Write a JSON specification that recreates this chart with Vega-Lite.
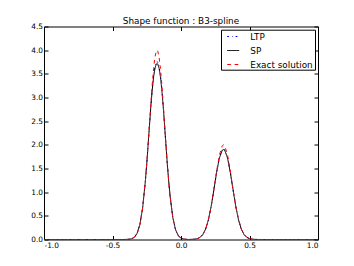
{
  "$schema": "https://vega.github.io/schema/vega-lite/v6.json",
  "width": 274,
  "height": 213,
  "autosize": {"type": "none"},
  "padding": {"left": 44, "top": 26.5, "right": 36, "bottom": 26.5},
  "background": "white",
  "config": {
    "font": "DejaVu Sans",
    "view": {"stroke": "black", "strokeWidth": 1},
    "axis": {"grid": false, "domain": false, "tickColor": "black", "labelColor": "black", "labelFont": "DejaVu Sans", "labelFontSize": 7.4, "title": null}
  },
  "title": {"text": "Shape function : B3-spline", "font": "DejaVu Sans", "fontSize": 8.85, "fontWeight": "normal", "color": "black", "offset": -3},
  "data": {"values": [
    {"s":"LTP","x":-1.0,"y":0},{"s":"LTP","x":-0.46,"y":0},{"s":"LTP","x":-0.44,"y":0.00004},{"s":"LTP","x":-0.42,"y":0.0002},{"s":"LTP","x":-0.40,"y":0.0011},{"s":"LTP","x":-0.38,"y":0.0044},{"s":"LTP","x":-0.36,"y":0.0154},{"s":"LTP","x":-0.34,"y":0.0482},{"s":"LTP","x":-0.32,"y":0.1318},{"s":"LTP","x":-0.30,"y":0.3168},{"s":"LTP","x":-0.28,"y":0.668},{"s":"LTP","x":-0.26,"y":1.237},{"s":"LTP","x":-0.25,"y":1.601},{"s":"LTP","x":-0.24,"y":2.003},{"s":"LTP","x":-0.23,"y":2.421},{"s":"LTP","x":-0.22,"y":2.824},{"s":"LTP","x":-0.21,"y":3.179},{"s":"LTP","x":-0.20,"y":3.461},{"s":"LTP","x":-0.19,"y":3.653},{"s":"LTP","x":-0.18,"y":3.748},{"s":"LTP","x":-0.175,"y":3.76},{"s":"LTP","x":-0.17,"y":3.748},{"s":"LTP","x":-0.16,"y":3.653},{"s":"LTP","x":-0.15,"y":3.461},{"s":"LTP","x":-0.14,"y":3.179},{"s":"LTP","x":-0.13,"y":2.824},{"s":"LTP","x":-0.12,"y":2.421},{"s":"LTP","x":-0.11,"y":2.003},{"s":"LTP","x":-0.10,"y":1.601},{"s":"LTP","x":-0.09,"y":1.237},{"s":"LTP","x":-0.08,"y":0.924},{"s":"LTP","x":-0.06,"y":0.468},{"s":"LTP","x":-0.04,"y":0.208},{"s":"LTP","x":-0.02,"y":0.081},{"s":"LTP","x":0.0,"y":0.028},{"s":"LTP","x":0.02,"y":0.0083},{"s":"LTP","x":0.04,"y":0.0024},{"s":"LTP","x":0.06,"y":0.0011},{"s":"LTP","x":0.08,"y":0.0022},{"s":"LTP","x":0.10,"y":0.0065},{"s":"LTP","x":0.12,"y":0.0183},{"s":"LTP","x":0.14,"y":0.0466},{"s":"LTP","x":0.16,"y":0.1072},{"s":"LTP","x":0.18,"y":0.222},{"s":"LTP","x":0.20,"y":0.414},{"s":"LTP","x":0.22,"y":0.697},{"s":"LTP","x":0.24,"y":1.051},{"s":"LTP","x":0.26,"y":1.424},{"s":"LTP","x":0.28,"y":1.730},{"s":"LTP","x":0.30,"y":1.898},{"s":"LTP","x":0.31,"y":1.92},{"s":"LTP","x":0.32,"y":1.898},{"s":"LTP","x":0.34,"y":1.730},{"s":"LTP","x":0.36,"y":1.424},{"s":"LTP","x":0.38,"y":1.051},{"s":"LTP","x":0.40,"y":0.697},{"s":"LTP","x":0.42,"y":0.414},{"s":"LTP","x":0.44,"y":0.222},{"s":"LTP","x":0.46,"y":0.107},{"s":"LTP","x":0.48,"y":0.047},{"s":"LTP","x":0.50,"y":0.018},{"s":"LTP","x":0.52,"y":0.0065},{"s":"LTP","x":0.54,"y":0.0021},{"s":"LTP","x":0.56,"y":0.0006},{"s":"LTP","x":0.58,"y":0.0002},{"s":"LTP","x":0.60,"y":0},{"s":"LTP","x":1.0,"y":0},
    {"s":"SP","x":-1.0,"y":0},{"s":"SP","x":-0.46,"y":0},{"s":"SP","x":-0.44,"y":0.00004},{"s":"SP","x":-0.42,"y":0.0002},{"s":"SP","x":-0.40,"y":0.0011},{"s":"SP","x":-0.38,"y":0.0044},{"s":"SP","x":-0.36,"y":0.0154},{"s":"SP","x":-0.34,"y":0.0482},{"s":"SP","x":-0.32,"y":0.1318},{"s":"SP","x":-0.30,"y":0.3168},{"s":"SP","x":-0.28,"y":0.668},{"s":"SP","x":-0.26,"y":1.236},{"s":"SP","x":-0.25,"y":1.600},{"s":"SP","x":-0.24,"y":2.002},{"s":"SP","x":-0.23,"y":2.416},{"s":"SP","x":-0.22,"y":2.815},{"s":"SP","x":-0.21,"y":3.163},{"s":"SP","x":-0.20,"y":3.435},{"s":"SP","x":-0.19,"y":3.619},{"s":"SP","x":-0.18,"y":3.709},{"s":"SP","x":-0.175,"y":3.72},{"s":"SP","x":-0.17,"y":3.709},{"s":"SP","x":-0.16,"y":3.619},{"s":"SP","x":-0.15,"y":3.435},{"s":"SP","x":-0.14,"y":3.163},{"s":"SP","x":-0.13,"y":2.815},{"s":"SP","x":-0.12,"y":2.416},{"s":"SP","x":-0.11,"y":2.002},{"s":"SP","x":-0.10,"y":1.600},{"s":"SP","x":-0.09,"y":1.236},{"s":"SP","x":-0.08,"y":0.924},{"s":"SP","x":-0.06,"y":0.468},{"s":"SP","x":-0.04,"y":0.208},{"s":"SP","x":-0.02,"y":0.081},{"s":"SP","x":0.0,"y":0.028},{"s":"SP","x":0.02,"y":0.0083},{"s":"SP","x":0.04,"y":0.0024},{"s":"SP","x":0.06,"y":0.0011},{"s":"SP","x":0.08,"y":0.0022},{"s":"SP","x":0.10,"y":0.0065},{"s":"SP","x":0.12,"y":0.0183},{"s":"SP","x":0.14,"y":0.0466},{"s":"SP","x":0.16,"y":0.1072},{"s":"SP","x":0.18,"y":0.222},{"s":"SP","x":0.20,"y":0.414},{"s":"SP","x":0.22,"y":0.696},{"s":"SP","x":0.24,"y":1.050},{"s":"SP","x":0.26,"y":1.419},{"s":"SP","x":0.28,"y":1.717},{"s":"SP","x":0.30,"y":1.879},{"s":"SP","x":0.31,"y":1.90},{"s":"SP","x":0.32,"y":1.879},{"s":"SP","x":0.34,"y":1.717},{"s":"SP","x":0.36,"y":1.419},{"s":"SP","x":0.38,"y":1.050},{"s":"SP","x":0.40,"y":0.696},{"s":"SP","x":0.42,"y":0.414},{"s":"SP","x":0.44,"y":0.222},{"s":"SP","x":0.46,"y":0.107},{"s":"SP","x":0.48,"y":0.047},{"s":"SP","x":0.50,"y":0.018},{"s":"SP","x":0.52,"y":0.0065},{"s":"SP","x":0.54,"y":0.0021},{"s":"SP","x":0.56,"y":0.0006},{"s":"SP","x":0.58,"y":0.0002},{"s":"SP","x":0.60,"y":0},{"s":"SP","x":1.0,"y":0},
    {"s":"Exact solution","x":-1.0,"y":0},{"s":"Exact solution","x":-0.46,"y":0},{"s":"Exact solution","x":-0.44,"y":0.00004},{"s":"Exact solution","x":-0.42,"y":0.0002},{"s":"Exact solution","x":-0.40,"y":0.0011},{"s":"Exact solution","x":-0.38,"y":0.0044},{"s":"Exact solution","x":-0.36,"y":0.0154},{"s":"Exact solution","x":-0.34,"y":0.0482},{"s":"Exact solution","x":-0.32,"y":0.1318},{"s":"Exact solution","x":-0.30,"y":0.3168},{"s":"Exact solution","x":-0.28,"y":0.668},{"s":"Exact solution","x":-0.26,"y":1.238},{"s":"Exact solution","x":-0.25,"y":1.605},{"s":"Exact solution","x":-0.24,"y":2.015},{"s":"Exact solution","x":-0.23,"y":2.448},{"s":"Exact solution","x":-0.22,"y":2.880},{"s":"Exact solution","x":-0.21,"y":3.279},{"s":"Exact solution","x":-0.20,"y":3.614},{"s":"Exact solution","x":-0.19,"y":3.857},{"s":"Exact solution","x":-0.18,"y":3.984},{"s":"Exact solution","x":-0.175,"y":4.0},{"s":"Exact solution","x":-0.17,"y":3.984},{"s":"Exact solution","x":-0.16,"y":3.857},{"s":"Exact solution","x":-0.15,"y":3.614},{"s":"Exact solution","x":-0.14,"y":3.279},{"s":"Exact solution","x":-0.13,"y":2.880},{"s":"Exact solution","x":-0.12,"y":2.448},{"s":"Exact solution","x":-0.11,"y":2.015},{"s":"Exact solution","x":-0.10,"y":1.605},{"s":"Exact solution","x":-0.09,"y":1.238},{"s":"Exact solution","x":-0.08,"y":0.924},{"s":"Exact solution","x":-0.06,"y":0.468},{"s":"Exact solution","x":-0.04,"y":0.208},{"s":"Exact solution","x":-0.02,"y":0.081},{"s":"Exact solution","x":0.0,"y":0.028},{"s":"Exact solution","x":0.02,"y":0.0083},{"s":"Exact solution","x":0.04,"y":0.0024},{"s":"Exact solution","x":0.06,"y":0.0011},{"s":"Exact solution","x":0.08,"y":0.0022},{"s":"Exact solution","x":0.10,"y":0.0065},{"s":"Exact solution","x":0.12,"y":0.0183},{"s":"Exact solution","x":0.14,"y":0.0466},{"s":"Exact solution","x":0.16,"y":0.1072},{"s":"Exact solution","x":0.18,"y":0.222},{"s":"Exact solution","x":0.20,"y":0.414},{"s":"Exact solution","x":0.22,"y":0.697},{"s":"Exact solution","x":0.24,"y":1.057},{"s":"Exact solution","x":0.26,"y":1.445},{"s":"Exact solution","x":0.28,"y":1.779},{"s":"Exact solution","x":0.30,"y":1.974},{"s":"Exact solution","x":0.31,"y":2.0},{"s":"Exact solution","x":0.32,"y":1.974},{"s":"Exact solution","x":0.34,"y":1.779},{"s":"Exact solution","x":0.36,"y":1.445},{"s":"Exact solution","x":0.38,"y":1.057},{"s":"Exact solution","x":0.40,"y":0.697},{"s":"Exact solution","x":0.42,"y":0.414},{"s":"Exact solution","x":0.44,"y":0.222},{"s":"Exact solution","x":0.46,"y":0.107},{"s":"Exact solution","x":0.48,"y":0.047},{"s":"Exact solution","x":0.50,"y":0.018},{"s":"Exact solution","x":0.52,"y":0.0065},{"s":"Exact solution","x":0.54,"y":0.0021},{"s":"Exact solution","x":0.56,"y":0.0006},{"s":"Exact solution","x":0.58,"y":0.0002},{"s":"Exact solution","x":0.60,"y":0},{"s":"Exact solution","x":1.0,"y":0}
  ]},
  "layer": [
    {
      "mark": {"type": "line", "strokeWidth": 1, "clip": true},
      "encoding": {
        "x": {"field": "x", "type": "quantitative", "scale": {"domain": [-1, 1], "nice": false, "zero": false},
              "axis": {"orient": "bottom", "values": [-1, -0.5, 0, 0.5, 1], "tickSize": -4, "labelPadding": 6, "labelExpr": "replace(format(datum.value, '.1f'), '\u2212', '-')"}},
        "y": {"field": "y", "type": "quantitative", "scale": {"domain": [0, 4.5], "nice": false},
              "axis": {"orient": "left", "values": [0, 0.5, 1, 1.5, 2, 2.5, 3, 3.5, 4, 4.5], "tickSize": -4, "labelPadding": 5.5, "labelExpr": "format(datum.value, '.1f')"}},
        "color": {"field": "s", "type": "nominal", "sort": ["LTP", "SP", "Exact solution"],
                  "scale": {"domain": ["LTP", "SP", "Exact solution"], "range": ["#0000ff", "#000000", "#ff0000"]},
                  "legend": {"orient": "none", "legendX": 177, "legendY": 3.2, "title": " ", "titleOrient": "right", "titlePadding": 1.5, "titleFontSize": 8.85, "titleColor": "white", "strokeColor": "black", "fillColor": "white", "padding": 0.3, "rowPadding": 2, "symbolType": "stroke", "symbolSize": 144, "symbolOffset": 5.4, "symbolStrokeWidth": 1, "labelOffset": 10.6, "labelFont": "DejaVu Sans", "labelFontSize": 8.85, "labelColor": "black", "cornerRadius": 0}},
        "strokeDash": {"field": "s", "type": "nominal", "sort": ["LTP", "SP", "Exact solution"],
                       "scale": {"domain": ["LTP", "SP", "Exact solution"], "range": [[1.8, 3, 0.6, 3], [1, 0], [3.7, 3.7]]},
                       "legend": null}
      }
    },
    {
      "mark": {"type": "line", "opacity": 0},
      "encoding": {
        "x": {"field": "x", "type": "quantitative", "axis": {"orient": "top", "values": [-1, -0.5, 0, 0.5, 1], "tickSize": -4, "labels": false}},
        "y": {"field": "y", "type": "quantitative", "axis": {"orient": "right", "values": [0, 0.5, 1, 1.5, 2, 2.5, 3, 3.5, 4, 4.5], "tickSize": -4, "labels": false}}
      }
    }
  ],
  "resolve": {"axis": {"x": "independent", "y": "independent"}}
}
